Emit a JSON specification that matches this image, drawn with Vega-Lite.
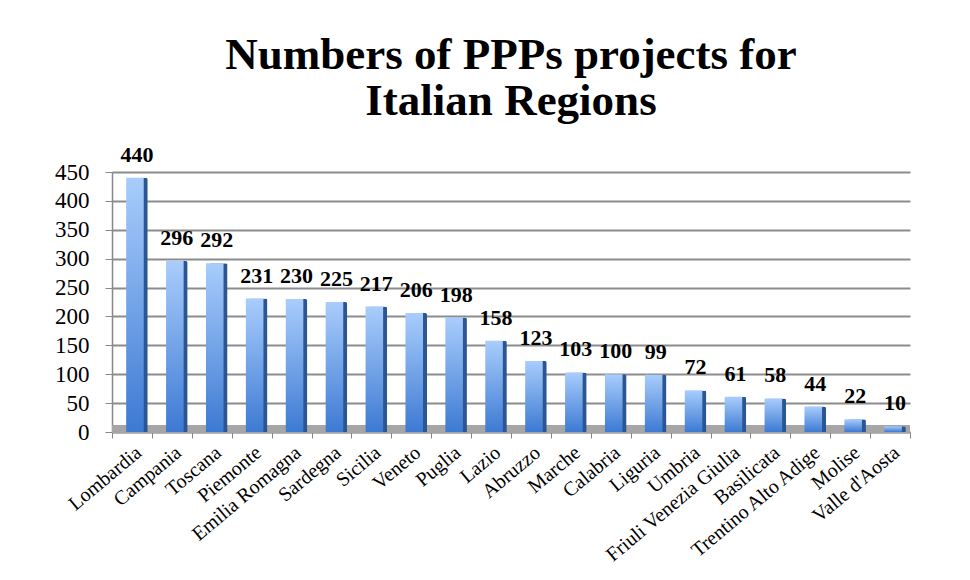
{
  "$schema": "https://vega.github.io/schema/vega-lite/v6.json",
  "autosize": "none",
  "width": 798,
  "height": 260,
  "padding": {"left": 112, "top": 172, "right": 60, "bottom": 148},
  "background": "white",
  "title": {
    "text": ["Numbers of PPPs projects for", "Italian Regions"],
    "font": "Liberation Serif",
    "fontSize": 45,
    "fontWeight": "bold",
    "color": "black",
    "lineHeight": 46,
    "anchor": "middle",
    "offset": 20
  },
  "config": {
    "view": {"stroke": null},
    "axis": {"labelFont": "Liberation Serif", "labelColor": "black", "titleFont": "Liberation Serif"},
    "axisY": {
      "title": null,
      "values": [0, 50, 100, 150, 200, 250, 300, 350, 400, 450],
      "labelFontSize": 23,
      "labelPadding": 16,
      "labelOverlap": false,
      "tickSize": 7,
      "tickColor": "#888888",
      "domainColor": "#888888",
      "domainWidth": 1.5,
      "grid": true,
      "gridColor": "#8c8c8c",
      "gridWidth": 2
    }
  },
  "data": {
    "values": [
      {"region": "Lombardia", "projects": 440},
      {"region": "Campania", "projects": 296},
      {"region": "Toscana", "projects": 292},
      {"region": "Piemonte", "projects": 231},
      {"region": "Emilia Romagna", "projects": 230},
      {"region": "Sardegna", "projects": 225},
      {"region": "Sicilia", "projects": 217},
      {"region": "Veneto", "projects": 206},
      {"region": "Puglia", "projects": 198},
      {"region": "Lazio", "projects": 158},
      {"region": "Abruzzo", "projects": 123},
      {"region": "Marche", "projects": 103},
      {"region": "Calabria", "projects": 100},
      {"region": "Liguria", "projects": 99},
      {"region": "Umbria", "projects": 72},
      {"region": "Friuli Venezia Giulia", "projects": 61},
      {"region": "Basilicata", "projects": 58},
      {"region": "Trentino Alto Adige", "projects": 44},
      {"region": "Molise", "projects": 22},
      {"region": "Valle d'Aosta", "projects": 10}
    ]
  },
  "encoding": {
    "x": {
      "field": "region",
      "type": "nominal",
      "sort": null,
      "scale": {"paddingInner": 0, "paddingOuter": 0},
      "axis": {
        "title": null,
        "labelAngle": -40,
        "labelFontSize": 20,
        "labelPadding": 4,
        "tickBand": "extent",
        "tickColor": "#888888",
        "tickSize": 6,
        "domainColor": "#888888",
        "domainWidth": 1.5,
        "grid": false
      }
    }
  },
  "layer": [
    {
      "mark": {"type": "rule", "color": "#a6a6a6", "strokeWidth": 7, "yOffset": -3},
      "encoding": {
        "y": {"datum": 0, "type": "quantitative", "scale": {"domain": [0, 450]}},
        "x": null
      }
    },
    {
      "mark": {"type": "bar", "width": {"band": 0.44}, "xOffset": 7, "color": "#2a5694", "cornerRadiusTopRight": 2},
      "encoding": {
        "y": {"field": "projects", "type": "quantitative", "scale": {"domain": [0, 450]}}
      }
    },
    {
      "mark": {
        "type": "bar",
        "width": {"band": 0.44},
        "xOffset": 3,
        "color": {
          "gradient": "linear",
          "x1": 0, "y1": 0, "x2": 0, "y2": 1,
          "stops": [
            {"offset": 0, "color": "#a9cdfc"},
            {"offset": 1, "color": "#3d7ad3"}
          ]
        }
      },
      "encoding": {
        "y": {"field": "projects", "type": "quantitative", "scale": {"domain": [0, 450]}}
      }
    },
    {
      "mark": {
        "type": "text",
        "font": "Liberation Serif",
        "fontSize": 22,
        "fontWeight": "bold",
        "color": "black",
        "baseline": "bottom",
        "dy": -11,
        "xOffset": 5
      },
      "encoding": {
        "y": {"field": "projects", "type": "quantitative", "scale": {"domain": [0, 450]}},
        "text": {"field": "projects", "type": "quantitative"}
      }
    }
  ]
}
